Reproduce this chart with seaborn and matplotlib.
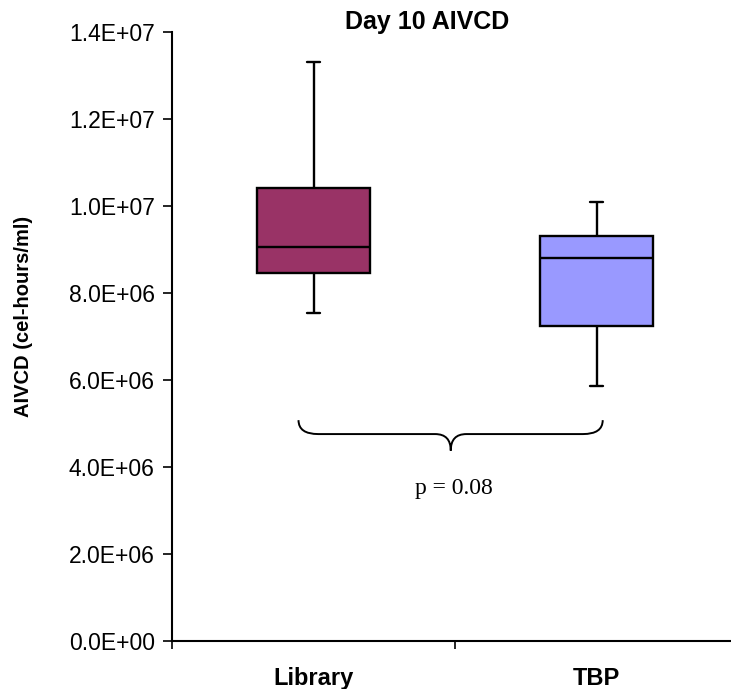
#! /usr/bin/env python3

import matplotlib
matplotlib.use('Agg')

import matplotlib.pyplot as plt
import numpy as np
import pandas as pd
import seaborn as sns
from matplotlib.path import Path
from matplotlib.patches import PathPatch
from matplotlib.ticker import FuncFormatter

# five-number summaries (min, Q1, median, Q3, max)
groups = ['Library', 'TBP']
library_vals = [7.54e6, 8.45e6, 9.06e6, 1.040e7, 1.330e7]
tbp_vals = [5.85e6, 7.24e6, 8.79e6, 9.31e6, 1.0085e7]
box_colors = ['#993366', '#9999FF']
y_ticks = [0, 2e6, 4e6, 6e6, 8e6, 1e7, 1.2e7, 1.4e7]
p_label = 'p = 0.08'

row_group = 'group'
row_val = 'AIVCD (cel-hours/ml)'

data = pd.DataFrame({
    row_group: [groups[0]] * len(library_vals) + [groups[1]] * len(tbp_vals),
    row_val: library_vals + tbp_vals,
})

sns.set_theme(style='ticks')
plt.rcParams['font.family'] = ['Liberation Sans', 'DejaVu Sans']

fig = plt.figure(figsize=(7.31, 6.89), dpi=100)
ax = fig.add_axes([172 / 731, (689 - 640.7) / 689, 566 / 731, 609 / 689])

sns.boxplot(data=data, x=row_group, y=row_val, hue=row_group,
            palette=box_colors, order=groups, hue_order=groups,
            whis=np.inf, width=0.4, saturation=1, linecolor='black',
            linewidth=1.7, showfliers=False, legend=False,
            capwidths=0.045, ax=ax)

ax.set_xlim(-0.5, 1.5)
ax.set_ylim(0, 1.4e7)
ax.set_yticks(y_ticks)
ax.yaxis.set_major_formatter(FuncFormatter(lambda v, pos: f'{v:.1E}'))
ax.tick_params(axis='y', labelsize=16.5, length=6.5, width=1.2, pad=6,
               color='black', labelcolor='black')

ax.set_xticks([0, 1])
ax.set_xticklabels(groups, fontsize=17, fontweight='bold')
ax.set_xticks([-0.5, 0.5, 1.5], minor=True)
ax.tick_params(axis='x', which='major', length=0, pad=19, labelcolor='black')
ax.tick_params(axis='x', which='minor', length=5.5, width=1.2, color='black')
ax.set_xlabel('')

ax.set_ylabel(row_val, fontsize=14.5, fontweight='bold', color='black')
ax.yaxis.set_label_coords((33 - 172) / 566, (640.7 - 316) / 609)

for side in ['top', 'right']:
    ax.spines[side].set_visible(False)
for side in ['left', 'bottom']:
    ax.spines[side].set_color('black')
    ax.spines[side].set_linewidth(1.5)

# curly brace between the groups
x0, x1, xm = -0.053, 1.022, 0.485
rl, rm = 0.07, 0.055
ytop, ymid, ytip = 5.07e6, 4.75e6, 4.37e6
verts = [
    (x0, ytop), (x0, ymid), (x0 + rl, ymid),
    (xm - rm, ymid),
    (xm, ymid), (xm, ytip),
    (xm, ymid), (xm + rm, ymid),
    (x1 - rl, ymid),
    (x1, ymid), (x1, ytop),
]
codes = [Path.MOVETO, Path.CURVE3, Path.CURVE3,
         Path.LINETO,
         Path.CURVE3, Path.CURVE3,
         Path.CURVE3, Path.CURVE3,
         Path.LINETO,
         Path.CURVE3, Path.CURVE3]
ax.add_patch(PathPatch(Path(verts, codes), facecolor='none',
                       edgecolor='black', linewidth=1.4))
ax.text(0.495, 3.37e6, p_label, ha='center', va='baseline', fontsize=17,
        family=['Liberation Serif', 'DejaVu Serif'], color='black')

fig.text(427 / 731, 1 - 29 / 689, 'Day 10 AIVCD', ha='center', va='baseline',
         fontsize=18, fontweight='bold', color='black')

fig.savefig('out.png', dpi=100)
